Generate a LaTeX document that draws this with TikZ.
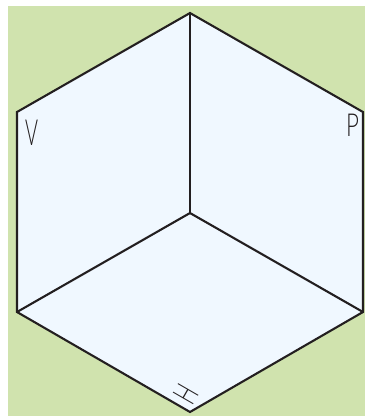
\documentclass[tikz,border=0pt]{standalone}
\usepackage{fontspec}
\newfontfamily\lab{Lato Light}
\definecolor{bggreen}{HTML}{D0E3AE}
\definecolor{facefill}{HTML}{F0F8FF}
\definecolor{edgeink}{HTML}{231F20}
\tikzset{
  edgeline/.style={draw=edgeink,line width=2.1pt,line join=miter,line cap=round},
  facelabel/.style={inner sep=0pt,outer sep=0pt,text=edgeink,font=\lab\fontsize{36}{36}\selectfont}
}
\begin{document}
\begin{tikzpicture}[x=1pt,y=-1pt]
\useasboundingbox (0,0) rectangle (365,416);
\fill[bggreen] (8,6) rectangle (365,416);
\coordinate (T) at (190,13);
\coordinate (UL) at (17,112);
\coordinate (LL) at (17,312);
\coordinate (B) at (190,412);
\coordinate (LR) at (363,312);
\coordinate (UR) at (363,112);
\coordinate (C) at (190,213);
\fill[facefill] (T) -- (UR) -- (LR) -- (B) -- (LL) -- (UL) -- cycle;
\draw[edgeline] (T) -- (UR) -- (LR) -- (B) -- (LL) -- (UL) -- cycle;
\draw[edgeline] (T) -- (C);
\draw[edgeline] (LL) -- (C);
\draw[edgeline] (LR) -- (C);
\node[facelabel,xscale=.55] (V) at (31.5,132.5) {V};
\node[facelabel,xscale=.62,yscale=.88] (P) at (352.5,125.5) {P};
\node[facelabel,rotate=60,yscale=.92,xscale=.55] (H) at (186.5,394) {H};
\end{tikzpicture}
\end{document}
